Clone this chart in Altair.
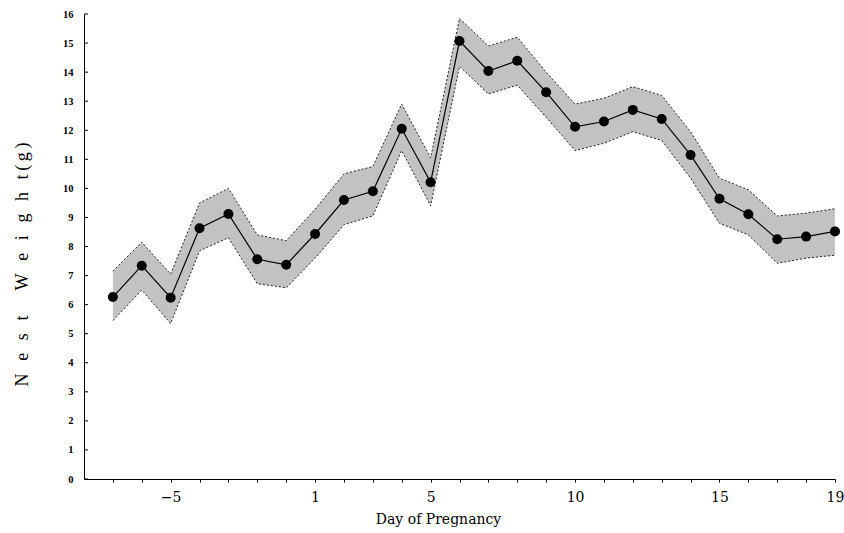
import altair as alt
import pandas as pd

# Day of pregnancy (no day 0), plotted at equally spaced positions
days = ["-7", "-6", "-5", "-4", "-3", "-2", "-1",
        "1", "2", "3", "4", "5", "6", "7", "8", "9", "10",
        "11", "12", "13", "14", "15", "16", "17", "18", "19"]
positions = list(range(len(days)))
shown_days = ["-5", "1", "5", "10", "15", "19"]

mean = [6.26, 7.34, 6.24, 8.63, 9.12, 7.56, 7.37, 8.43, 9.60, 9.90,
        12.05, 10.21, 15.07, 14.04, 14.39, 13.31, 12.12, 12.30, 12.70, 12.39,
        11.15, 9.64, 9.11, 8.25, 8.34, 8.52]
upper = [7.15, 8.15, 7.05, 9.50, 10.00, 8.40, 8.20, 9.28, 10.50, 10.75,
         12.90, 11.05, 15.85, 14.90, 15.20, 14.00, 12.90, 13.10, 13.50, 13.20,
         11.95, 10.35, 9.95, 9.05, 9.15, 9.30]
lower = [5.45, 6.50, 5.35, 7.85, 8.30, 6.72, 6.58, 7.60, 8.75, 9.05,
         11.30, 9.40, 14.20, 13.25, 13.55, 12.45, 11.30, 11.55, 11.95, 11.65,
         10.35, 8.80, 8.40, 7.42, 7.60, 7.70]
y_ticks = list(range(0, 17))

df = pd.DataFrame({"pos": positions, "day": days, "mean": mean,
                   "upper": upper, "lower": lower})
ticks_df = pd.DataFrame({"tick": y_ticks})

# label expression: show only selected day labels
expr = "''"
for d in reversed(shown_days):
    p = days.index(d)
    lab = d.replace("-", "\u2212")
    expr = f"datum.value == {p} ? '{lab}' : ({expr})"

sep = "\u2002\u2009"
y_title = (sep.join("Nest") + sep + sep + sep.join("Weight")
           + "\u2009(\u2009g\u2009)")

xaxis = alt.Axis(
    title="Day of Pregnancy", values=positions, labelExpr=expr,
    grid=False, domainColor="black", domainWidth=1,
    tickColor="black", tickSize=3, tickWidth=1,
    labelFont="DejaVu Serif", labelFontSize=14, labelColor="black",
    labelPadding=8, labelFlush=False, labelOverlap=False,
    titleFont="DejaVu Serif", titleFontSize=14, titleFontWeight="normal",
    titleColor="black", titleX=354, titleY=40, titleAlign="center",
    titleBaseline="middle", titleAnchor="start",
)
yaxis = alt.Axis(
    title=y_title, values=y_ticks, grid=False, ticks=False,
    domainColor="black", domainWidth=1,
    labelFont="Liberation Serif", labelFontSize=10.5, labelFontWeight="bold",
    labelColor="black", labelPadding=11,
    titleFont="Liberation Serif", titleFontSize=18, titleFontWeight="normal",
    titleColor="black", titleAngle=270, titleX=-62, titleY=250,
    titleAlign="center", titleBaseline="middle", titleAnchor="start",
)

xs = alt.Scale(domain=[-1, 25], nice=False, zero=False)
ys = alt.Scale(domain=[0, 16], nice=False)

base = alt.Chart(df)

band = base.mark_area(color="#c2c2c2", opacity=1).encode(
    x=alt.X("pos:Q", scale=xs, axis=xaxis),
    y=alt.Y("lower:Q", scale=ys, axis=yaxis),
    y2="upper:Q",
)
edge_hi = base.mark_line(color="#222222", strokeWidth=1, strokeDash=[2, 2]).encode(
    x=alt.X("pos:Q", scale=xs, axis=xaxis),
    y=alt.Y("upper:Q", scale=ys, axis=yaxis),
)
edge_lo = base.mark_line(color="#222222", strokeWidth=1, strokeDash=[2, 2]).encode(
    x=alt.X("pos:Q", scale=xs, axis=xaxis),
    y=alt.Y("lower:Q", scale=ys, axis=yaxis),
)
line = base.mark_line(color="black", strokeWidth=1.2).encode(
    x=alt.X("pos:Q", scale=xs, axis=xaxis),
    y=alt.Y("mean:Q", scale=ys, axis=yaxis),
)
pts = base.mark_circle(color="black", size=100, opacity=1).encode(
    x=alt.X("pos:Q", scale=xs, axis=xaxis),
    y=alt.Y("mean:Q", scale=ys, axis=yaxis),
)
yt = alt.Chart(ticks_df).mark_rule(color="black", strokeWidth=1).encode(
    y=alt.Y("tick:Q", scale=ys, axis=yaxis),
    x=alt.value(0),
    x2=alt.value(4),
)

chart = alt.layer(band, edge_hi, edge_lo, line, pts, yt).properties(
    width=751, height=465,
    autosize=alt.AutoSizeParams(type="none"),
    padding={"left": 84, "top": 14, "right": 9, "bottom": 54},
    background="white",
).configure_view(stroke=None)

chart.save("out.html", embed_options={"renderer": "svg", "actions": False})
